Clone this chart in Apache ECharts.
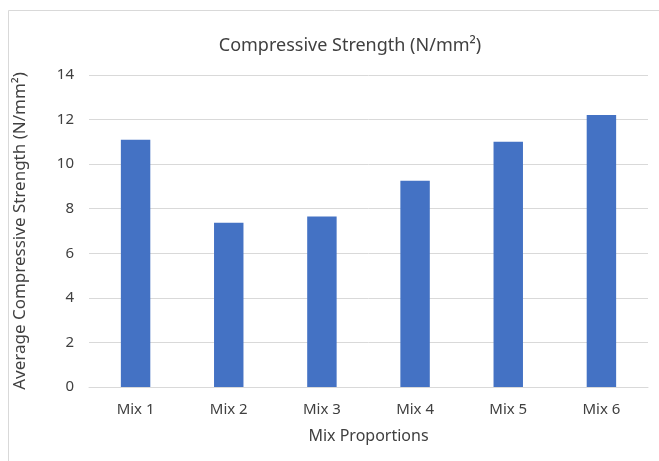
<!DOCTYPE html>
<html>
<head>
<meta charset="utf-8">
<script src="https://cdn.jsdelivr.net/npm/echarts@6/dist/echarts.min.js"></script>
<style>html,body{margin:0;padding:0;background:#fff;}#c{width:659px;height:461px;}</style>
</head>
<body>
<div id="c"></div>
<script>
const categories = ['Mix 1','Mix 2','Mix 3','Mix 4','Mix 5','Mix 6'];
const strengthValues = [11.1, 7.37, 7.65, 9.26, 11.0, 12.2];
const yTicks = [0, 2, 4, 6, 8, 10, 12, 14];

const chart = echarts.init(document.getElementById('c'), null, {renderer:'canvas'});
const font = 'Noto Sans';
const textColor = '#404040';
chart.setOption({
  animation: false,
  backgroundColor: '#fff',
  graphic: [{
    type: 'rect', left: 6, top: 8, silent: true,
    shape: {x: 0, y: 0, width: 720, height: 520},
    style: {fill: 'none', stroke: '#d9d9d9', lineWidth: 1}
  }],
  title: {
    text: 'Compressive Strength (N/mm²)',
    left: 345, top: 32, textAlign: 'center',
    textStyle: {fontFamily: font, fontSize: 18, fontWeight: 'normal', color: textColor}
  },
  grid: {left: 89, right: 11, top: 75, bottom: 74, containLabel: false},
  xAxis: {
    type: 'category', data: categories,
    name: 'Mix Proportions', nameLocation: 'middle', nameGap: 41,
    nameTextStyle: {fontFamily: font, fontSize: 16, color: textColor},
    axisLine: {lineStyle: {color: '#d9d9d9'}},
    axisTick: {show: false},
    axisLabel: {fontFamily: font, fontSize: 15, color: textColor, margin: 15}
  },
  yAxis: {
    type: 'value', min: yTicks[0], max: yTicks[yTicks.length-1], interval: 2,
    name: 'Average Compressive Strength (N/mm²)', nameLocation: 'middle', nameGap: 60,
    nameTextStyle: {fontFamily: font, fontSize: 17, color: textColor},
    axisLine: {show: false}, axisTick: {show: false},
    splitLine: {lineStyle: {color: '#d9d9d9', width: 1}},
    axisLabel: {fontFamily: font, fontSize: 15, color: textColor, margin: 15}
  },
  series: [{
    type: 'bar', data: strengthValues, barWidth: '31.6%',
    itemStyle: {color: '#4472C4'}
  }]
});
</script>
</body>
</html>
